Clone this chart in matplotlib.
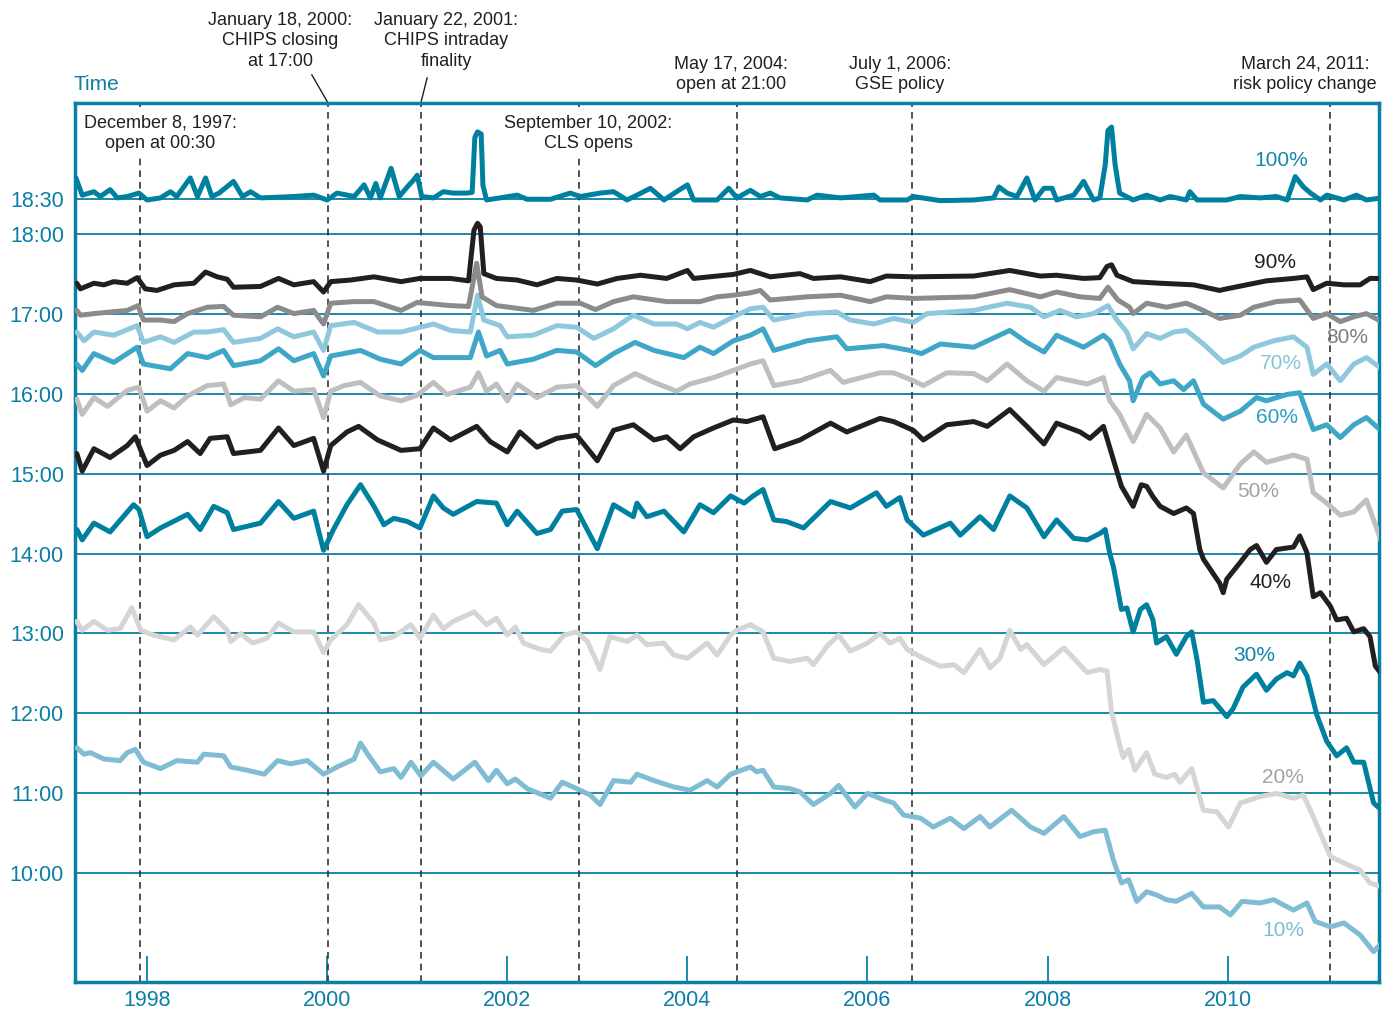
import numpy as np
import matplotlib.pyplot as plt

plt.rcParams['font.family'] = ['Liberation Sans', 'DejaVu Sans']

# percentiles of cumulative payment value, time of day (decimal hours), by date (decimal year)
t100 = [1997.21, 1997.28, 1997.41, 1997.48, 1997.59, 1997.67, 1997.78, 1997.91, 1998.00, 1998.15,
        1998.26, 1998.33, 1998.48, 1998.56, 1998.65, 1998.72, 1998.80, 1998.96, 1999.06, 1999.15,
        1999.26, 1999.45, 1999.63, 1999.85, 2000.00, 2000.11, 2000.30, 2000.41, 2000.48, 2000.54,
        2000.59, 2000.71, 2000.80, 2000.89, 2000.96, 2001.00, 2001.05, 2001.18, 2001.29, 2001.40,
        2001.55, 2001.61, 2001.64, 2001.67, 2001.71, 2001.73, 2001.77, 2001.92, 2002.11, 2002.22,
        2002.48, 2002.70, 2002.81, 2003.03, 2003.18, 2003.33, 2003.44, 2003.59, 2003.74, 2003.88,
        2004.00, 2004.07, 2004.33, 2004.46, 2004.55, 2004.70, 2004.81, 2004.92, 2005.03, 2005.33,
        2005.44, 2005.70, 2006.07, 2006.14, 2006.44, 2006.51, 2006.81, 2007.18, 2007.40, 2007.46,
        2007.55, 2007.66, 2007.77, 2007.86, 2007.96, 2008.05, 2008.10, 2008.29, 2008.40, 2008.51,
        2008.58, 2008.64, 2008.67, 2008.71, 2008.75, 2008.80, 2008.95, 2009.10, 2009.25, 2009.36,
        2009.54, 2009.58, 2009.66, 2009.99, 2010.14, 2010.36, 2010.54, 2010.66, 2010.75, 2010.84,
        2010.92, 2011.03, 2011.10, 2011.29, 2011.43, 2011.54, 2011.71]
v100 = [18.81, 18.56, 18.61, 18.54, 18.64, 18.52, 18.54, 18.59, 18.49, 18.52,
        18.61, 18.54, 18.81, 18.54, 18.81, 18.54, 18.59, 18.76, 18.54, 18.61,
        18.52, 18.53, 18.54, 18.56, 18.49, 18.59, 18.54, 18.71, 18.52, 18.73,
        18.52, 18.95, 18.54, 18.68, 18.78, 18.85, 18.54, 18.52, 18.61, 18.59,
        18.59, 18.60, 19.40, 19.48, 19.45, 18.70, 18.49, 18.52, 18.56, 18.50,
        18.50, 18.59, 18.54, 18.59, 18.61, 18.49, 18.56, 18.66, 18.49, 18.61,
        18.71, 18.49, 18.49, 18.66, 18.52, 18.63, 18.54, 18.59, 18.52, 18.49,
        18.56, 18.52, 18.56, 18.49, 18.49, 18.54, 18.48, 18.49, 18.52, 18.68,
        18.59, 18.54, 18.81, 18.49, 18.66, 18.66, 18.49, 18.56, 18.76, 18.49,
        18.52, 19.00, 19.50, 19.55, 19.00, 18.59, 18.49, 18.56, 18.49, 18.54,
        18.49, 18.61, 18.49, 18.49, 18.54, 18.52, 18.54, 18.49, 18.83, 18.68,
        18.59, 18.49, 18.56, 18.49, 18.56, 18.49, 18.52]

t90 = [1997.22, 1997.26, 1997.41, 1997.52, 1997.63, 1997.78, 1997.89, 1997.98, 1998.11, 1998.30,
       1998.52, 1998.65, 1998.78, 1998.89, 1998.96, 1999.26, 1999.46, 1999.63, 1999.85, 1999.96,
       2000.04, 2000.26, 2000.52, 2000.82, 2001.03, 2001.37, 2001.57, 2001.63, 2001.67, 2001.70,
       2001.74, 2001.88, 2002.11, 2002.33, 2002.55, 2002.77, 2003.00, 2003.22, 2003.48, 2003.77,
       2004.00, 2004.07, 2004.33, 2004.51, 2004.70, 2004.92, 2005.25, 2005.40, 2005.70, 2006.03,
       2006.21, 2006.51, 2007.18, 2007.58, 2007.92, 2008.10, 2008.40, 2008.58, 2008.66, 2008.71,
       2008.77, 2008.95, 2009.25, 2009.62, 2009.91, 2009.99, 2010.21, 2010.43, 2010.73, 2010.88,
       2010.95, 2011.10, 2011.29, 2011.47, 2011.58, 2011.71]
v90 = [17.38, 17.31, 17.38, 17.36, 17.40, 17.38, 17.45, 17.31, 17.29, 17.36,
       17.38, 17.52, 17.46, 17.43, 17.33, 17.34, 17.44, 17.36, 17.40, 17.27,
       17.40, 17.42, 17.46, 17.40, 17.44, 17.44, 17.41, 18.05, 18.15, 18.10,
       17.50, 17.44, 17.42, 17.36, 17.44, 17.42, 17.37, 17.44, 17.48, 17.44,
       17.54, 17.44, 17.47, 17.49, 17.54, 17.46, 17.50, 17.44, 17.46, 17.40,
       17.47, 17.46, 17.47, 17.54, 17.47, 17.48, 17.44, 17.45, 17.59, 17.61,
       17.48, 17.40, 17.38, 17.36, 17.29, 17.31, 17.36, 17.41, 17.44, 17.46,
       17.30, 17.38, 17.36, 17.36, 17.44, 17.44]

t80 = [1997.22, 1997.26, 1997.41, 1997.59, 1997.78, 1997.90, 1997.96, 1998.15, 1998.30, 1998.45,
       1998.67, 1998.85, 1998.96, 1999.26, 1999.45, 1999.63, 1999.85, 1999.96, 2000.04, 2000.30,
       2000.52, 2000.82, 2001.00, 2001.18, 2001.37, 2001.57, 2001.66, 2001.72, 2001.88, 2002.29,
       2002.55, 2002.81, 2002.98, 2003.18, 2003.40, 2003.77, 2004.14, 2004.33, 2004.51, 2004.70,
       2004.81, 2004.92, 2005.33, 2005.70, 2006.03, 2006.21, 2006.51, 2007.18, 2007.58, 2007.92,
       2008.10, 2008.36, 2008.58, 2008.67, 2008.78, 2008.91, 2008.95, 2009.10, 2009.32, 2009.54,
       2009.69, 2009.91, 2010.14, 2010.29, 2010.54, 2010.80, 2010.95, 2011.10, 2011.25, 2011.40,
       2011.54, 2011.71]
v80 = [17.04, 16.98, 17.00, 17.02, 17.04, 17.10, 16.92, 16.92, 16.90, 17.00,
       17.08, 17.09, 16.98, 16.96, 17.08, 17.00, 17.04, 16.87, 17.13, 17.15,
       17.15, 17.04, 17.14, 17.12, 17.10, 17.09, 17.63, 17.21, 17.10, 17.04,
       17.13, 17.13, 17.05, 17.15, 17.21, 17.15, 17.15, 17.21, 17.23, 17.26,
       17.29, 17.17, 17.21, 17.23, 17.15, 17.21, 17.19, 17.21, 17.30, 17.21,
       17.27, 17.21, 17.19, 17.33, 17.17, 17.08, 17.00, 17.13, 17.08, 17.13,
       17.06, 16.94, 16.98, 17.08, 17.15, 17.17, 16.94, 17.00, 16.90, 16.96,
       17.00, 16.90]

t70 = [1997.22, 1997.30, 1997.41, 1997.63, 1997.89, 1997.96, 1998.15, 1998.30, 1998.52, 1998.67,
       1998.85, 1998.96, 1999.26, 1999.45, 1999.63, 1999.85, 1999.96, 2000.04, 2000.30, 2000.56,
       2000.82, 2001.00, 2001.18, 2001.37, 2001.59, 2001.67, 2001.74, 2001.92, 2002.00, 2002.29,
       2002.55, 2002.77, 2002.96, 2003.18, 2003.40, 2003.63, 2003.88, 2004.00, 2004.14, 2004.29,
       2004.51, 2004.70, 2004.84, 2004.96, 2005.33, 2005.66, 2005.81, 2006.07, 2006.29, 2006.51,
       2006.66, 2007.18, 2007.55, 2007.81, 2007.96, 2008.14, 2008.32, 2008.51, 2008.67, 2008.77,
       2008.88, 2008.95, 2009.10, 2009.25, 2009.40, 2009.54, 2009.73, 2009.95, 2010.14, 2010.29,
       2010.51, 2010.73, 2010.88, 2010.95, 2011.10, 2011.25, 2011.40, 2011.54, 2011.71]
v70 = [16.77, 16.66, 16.77, 16.73, 16.85, 16.64, 16.71, 16.64, 16.77, 16.77,
       16.80, 16.64, 16.69, 16.81, 16.71, 16.77, 16.54, 16.85, 16.89, 16.77,
       16.77, 16.82, 16.87, 16.79, 16.77, 17.23, 16.92, 16.85, 16.71, 16.73,
       16.85, 16.83, 16.69, 16.81, 16.98, 16.87, 16.87, 16.81, 16.89, 16.83,
       16.96, 17.06, 17.08, 16.92, 17.00, 17.02, 16.92, 16.87, 16.94, 16.89,
       17.00, 17.04, 17.13, 17.08, 16.96, 17.04, 16.96, 17.00, 17.10, 16.92,
       16.77, 16.56, 16.75, 16.69, 16.77, 16.79, 16.62, 16.39, 16.47, 16.58,
       16.66, 16.71, 16.58, 16.24, 16.37, 16.16, 16.37, 16.45, 16.31]

t60 = [1997.22, 1997.28, 1997.41, 1997.63, 1997.89, 1997.96, 1998.26, 1998.45, 1998.67, 1998.85,
       1998.96, 1999.26, 1999.46, 1999.63, 1999.85, 1999.96, 2000.04, 2000.37, 2000.59, 2000.82,
       2001.03, 2001.18, 2001.59, 2001.68, 2001.77, 2001.92, 2002.00, 2002.29, 2002.55, 2002.77,
       2002.98, 2003.18, 2003.42, 2003.63, 2003.96, 2004.14, 2004.29, 2004.51, 2004.70, 2004.84,
       2004.96, 2005.33, 2005.66, 2005.77, 2006.18, 2006.47, 2006.60, 2006.81, 2007.18, 2007.58,
       2007.77, 2007.96, 2008.10, 2008.40, 2008.62, 2008.69, 2008.80, 2008.91, 2008.95, 2009.06,
       2009.14, 2009.25, 2009.40, 2009.51, 2009.62, 2009.73, 2009.95, 2010.14, 2010.32, 2010.43,
       2010.66, 2010.80, 2010.95, 2011.10, 2011.25, 2011.40, 2011.54, 2011.71]
v60 = [16.37, 16.29, 16.50, 16.39, 16.58, 16.37, 16.31, 16.50, 16.45, 16.54,
       16.35, 16.41, 16.56, 16.41, 16.50, 16.22, 16.47, 16.54, 16.43, 16.37,
       16.54, 16.45, 16.45, 16.77, 16.47, 16.54, 16.37, 16.43, 16.54, 16.52,
       16.35, 16.50, 16.64, 16.54, 16.45, 16.58, 16.50, 16.66, 16.73, 16.81,
       16.54, 16.66, 16.71, 16.56, 16.60, 16.54, 16.50, 16.62, 16.58, 16.79,
       16.64, 16.52, 16.73, 16.58, 16.73, 16.66, 16.37, 16.16, 15.91, 16.20,
       16.26, 16.12, 16.16, 16.05, 16.16, 15.87, 15.68, 15.78, 15.95, 15.91,
       15.99, 16.01, 15.55, 15.61, 15.45, 15.61, 15.70, 15.53]

t50 = [1997.22, 1997.28, 1997.41, 1997.56, 1997.78, 1997.91, 1998.00, 1998.15, 1998.30, 1998.45,
       1998.67, 1998.85, 1998.93, 1999.08, 1999.26, 1999.46, 1999.63, 1999.85, 1999.96, 2000.04,
       2000.19, 2000.37, 2000.59, 2000.82, 2001.00, 2001.18, 2001.33, 2001.59, 2001.68, 2001.77,
       2001.88, 2002.00, 2002.11, 2002.33, 2002.55, 2002.77, 2003.00, 2003.18, 2003.42, 2003.63,
       2003.88, 2004.03, 2004.29, 2004.51, 2004.70, 2004.84, 2004.96, 2005.25, 2005.59, 2005.73,
       2006.14, 2006.29, 2006.51, 2006.62, 2006.88, 2007.18, 2007.33, 2007.55, 2007.77, 2007.96,
       2008.10, 2008.44, 2008.62, 2008.69, 2008.80, 2008.95, 2009.10, 2009.25, 2009.40, 2009.54,
       2009.73, 2009.95, 2010.14, 2010.29, 2010.43, 2010.73, 2010.88, 2010.95, 2011.10, 2011.25,
       2011.40, 2011.54, 2011.71]
v50 = [15.93, 15.74, 15.95, 15.84, 16.04, 16.08, 15.78, 15.91, 15.82, 15.97,
       16.10, 16.12, 15.86, 15.95, 15.93, 16.16, 16.03, 16.05, 15.70, 16.03,
       16.10, 16.14, 15.97, 15.91, 15.98, 16.14, 15.99, 16.08, 16.26, 16.03,
       16.12, 15.91, 16.12, 15.95, 16.08, 16.10, 15.84, 16.10, 16.25, 16.14,
       16.03, 16.12, 16.20, 16.29, 16.37, 16.41, 16.10, 16.16, 16.29, 16.14,
       16.26, 16.26, 16.16, 16.10, 16.26, 16.25, 16.16, 16.37, 16.16, 16.03,
       16.20, 16.12, 16.20, 15.91, 15.74, 15.40, 15.74, 15.57, 15.27, 15.48,
       15.01, 14.82, 15.12, 15.27, 15.14, 15.23, 15.18, 14.76, 14.63, 14.48,
       14.52, 14.67, 14.14]

t40 = [1997.22, 1997.28, 1997.41, 1997.59, 1997.78, 1997.87, 1998.00, 1998.15, 1998.30, 1998.45,
       1998.59, 1998.70, 1998.89, 1998.96, 1999.26, 1999.46, 1999.63, 1999.85, 1999.96, 2000.04,
       2000.22, 2000.35, 2000.56, 2000.82, 2001.03, 2001.18, 2001.37, 2001.66, 2001.81, 2002.00,
       2002.14, 2002.33, 2002.55, 2002.77, 2003.00, 2003.18, 2003.40, 2003.63, 2003.77, 2003.92,
       2004.07, 2004.29, 2004.51, 2004.66, 2004.84, 2004.97, 2005.25, 2005.59, 2005.77, 2006.14,
       2006.29, 2006.51, 2006.62, 2006.88, 2007.18, 2007.33, 2007.58, 2007.77, 2007.96, 2008.10,
       2008.36, 2008.47, 2008.62, 2008.75, 2008.82, 2008.95, 2009.04, 2009.10, 2009.17, 2009.25,
       2009.40, 2009.54, 2009.62, 2009.69, 2009.73, 2009.91, 2009.95, 2009.99, 2010.14, 2010.25,
       2010.32, 2010.43, 2010.54, 2010.73, 2010.80, 2010.88, 2010.95, 2011.03, 2011.14, 2011.21,
       2011.32, 2011.40, 2011.51, 2011.58, 2011.64, 2011.71]
v40 = [15.25, 15.03, 15.31, 15.20, 15.35, 15.46, 15.10, 15.23, 15.29, 15.40,
       15.25, 15.44, 15.46, 15.25, 15.29, 15.57, 15.35, 15.44, 15.03, 15.35,
       15.52, 15.59, 15.42, 15.29, 15.31, 15.57, 15.42, 15.59, 15.40, 15.27,
       15.52, 15.33, 15.44, 15.48, 15.16, 15.54, 15.61, 15.42, 15.46, 15.31,
       15.46, 15.57, 15.67, 15.65, 15.71, 15.31, 15.42, 15.63, 15.52, 15.69,
       15.65, 15.54, 15.42, 15.61, 15.65, 15.59, 15.80, 15.59, 15.37, 15.63,
       15.52, 15.44, 15.59, 15.10, 14.84, 14.59, 14.86, 14.84, 14.71, 14.59,
       14.50, 14.57, 14.50, 14.05, 13.93, 13.63, 13.51, 13.68, 13.89, 14.05,
       14.10, 13.89, 14.05, 14.08, 14.22, 14.01, 13.46, 13.51, 13.34, 13.17,
       13.19, 13.02, 13.06, 12.96, 12.59, 12.49]

t30 = [1997.22, 1997.28, 1997.41, 1997.59, 1997.85, 1997.91, 1998.00, 1998.15, 1998.45, 1998.59,
       1998.74, 1998.89, 1998.96, 1999.26, 1999.46, 1999.63, 1999.85, 1999.96, 2000.07, 2000.22,
       2000.37, 2000.52, 2000.63, 2000.74, 2000.89, 2001.03, 2001.18, 2001.29, 2001.40, 2001.66,
       2001.88, 2002.00, 2002.11, 2002.33, 2002.48, 2002.61, 2002.77, 2003.00, 2003.18, 2003.40,
       2003.44, 2003.55, 2003.74, 2003.96, 2004.14, 2004.29, 2004.48, 2004.63, 2004.73, 2004.84,
       2004.96, 2005.10, 2005.29, 2005.59, 2005.81, 2006.10, 2006.21, 2006.36, 2006.44, 2006.62,
       2006.92, 2007.03, 2007.25, 2007.40, 2007.58, 2007.77, 2007.96, 2008.10, 2008.29, 2008.44,
       2008.58, 2008.64, 2008.69, 2008.73, 2008.82, 2008.88, 2008.95, 2009.03, 2009.10, 2009.17,
       2009.21, 2009.32, 2009.43, 2009.54, 2009.60, 2009.66, 2009.73, 2009.84, 2009.99, 2010.06,
       2010.17, 2010.32, 2010.43, 2010.54, 2010.66, 2010.73, 2010.80, 2010.88, 2010.99, 2011.10,
       2011.21, 2011.32, 2011.40, 2011.51, 2011.62, 2011.71]
v30 = [14.30, 14.17, 14.38, 14.27, 14.61, 14.55, 14.21, 14.32, 14.49, 14.30,
       14.59, 14.51, 14.30, 14.38, 14.65, 14.44, 14.53, 14.04, 14.30, 14.61,
       14.86, 14.59, 14.36, 14.44, 14.40, 14.32, 14.72, 14.57, 14.49, 14.65,
       14.63, 14.36, 14.53, 14.25, 14.30, 14.53, 14.55, 14.06, 14.61, 14.46,
       14.63, 14.46, 14.53, 14.27, 14.61, 14.51, 14.72, 14.63, 14.72, 14.80,
       14.42, 14.40, 14.32, 14.65, 14.57, 14.76, 14.59, 14.70, 14.42, 14.23,
       14.38, 14.23, 14.46, 14.30, 14.72, 14.57, 14.21, 14.42, 14.19, 14.17,
       14.25, 14.30, 14.00, 13.84, 13.30, 13.32, 13.02, 13.30, 13.36, 13.17,
       12.88, 12.96, 12.74, 12.96, 13.02, 12.67, 12.14, 12.16, 11.96, 12.06,
       12.33, 12.49, 12.29, 12.43, 12.51, 12.47, 12.63, 12.47, 11.98, 11.65,
       11.47, 11.57, 11.39, 11.39, 10.88, 10.79]

t20 = [1997.22, 1997.28, 1997.41, 1997.56, 1997.70, 1997.83, 1997.93, 1998.07, 1998.30, 1998.48,
       1998.56, 1998.74, 1998.89, 1998.93, 1999.04, 1999.17, 1999.33, 1999.46, 1999.63, 1999.85,
       1999.96, 2000.04, 2000.22, 2000.35, 2000.52, 2000.59, 2000.74, 2000.93, 2001.03, 2001.18,
       2001.29, 2001.40, 2001.63, 2001.77, 2001.88, 2002.00, 2002.09, 2002.18, 2002.37, 2002.48,
       2002.63, 2002.77, 2002.89, 2003.03, 2003.14, 2003.33, 2003.44, 2003.55, 2003.74, 2003.85,
       2004.00, 2004.22, 2004.33, 2004.48, 2004.55, 2004.70, 2004.84, 2004.96, 2005.14, 2005.33,
       2005.40, 2005.55, 2005.68, 2005.81, 2006.00, 2006.14, 2006.25, 2006.36, 2006.44, 2006.62,
       2006.81, 2006.96, 2007.07, 2007.25, 2007.36, 2007.47, 2007.58, 2007.70, 2007.77, 2007.96,
       2008.18, 2008.29, 2008.44, 2008.58, 2008.66, 2008.71, 2008.79, 2008.84, 2008.90, 2008.97,
       2009.10, 2009.19, 2009.32, 2009.41, 2009.47, 2009.60, 2009.73, 2009.88, 2010.01, 2010.14,
       2010.36, 2010.54, 2010.73, 2010.84, 2010.95, 2011.06, 2011.14, 2011.29, 2011.47, 2011.58,
       2011.71]
v20 = [13.15, 13.04, 13.15, 13.04, 13.06, 13.32, 13.04, 12.98, 12.92, 13.08,
       12.98, 13.21, 13.04, 12.90, 13.00, 12.88, 12.94, 13.13, 13.02, 13.02,
       12.76, 12.92, 13.11, 13.36, 13.13, 12.92, 12.96, 13.11, 12.94, 13.23,
       13.06, 13.15, 13.27, 13.11, 13.19, 12.98, 13.08, 12.88, 12.80, 12.78,
       12.98, 13.02, 12.90, 12.55, 12.96, 12.90, 12.98, 12.86, 12.88, 12.73,
       12.69, 12.88, 12.73, 12.98, 13.04, 13.11, 13.02, 12.69, 12.65, 12.69,
       12.61, 12.84, 12.98, 12.78, 12.88, 13.00, 12.88, 12.94, 12.80, 12.69,
       12.59, 12.61, 12.51, 12.80, 12.57, 12.69, 13.04, 12.80, 12.86, 12.61,
       12.82, 12.69, 12.51, 12.55, 12.53, 12.02, 11.65, 11.45, 11.55, 11.29,
       11.51, 11.24, 11.20, 11.24, 11.14, 11.31, 10.79, 10.77, 10.58, 10.88,
       10.96, 11.00, 10.94, 10.98, 10.71, 10.42, 10.21, 10.13, 10.04, 9.88,
       9.83]

t10 = [1997.22, 1997.30, 1997.37, 1997.52, 1997.70, 1997.78, 1997.87, 1997.96, 1998.15, 1998.33,
       1998.56, 1998.63, 1998.85, 1998.93, 1999.11, 1999.30, 1999.45, 1999.59, 1999.78, 1999.96,
       2000.11, 2000.30, 2000.37, 2000.45, 2000.59, 2000.74, 2000.82, 2000.93, 2001.04, 2001.18,
       2001.40, 2001.64, 2001.79, 2001.88, 2002.00, 2002.09, 2002.22, 2002.48, 2002.61, 2002.77,
       2002.92, 2003.03, 2003.18, 2003.37, 2003.44, 2003.63, 2003.85, 2004.03, 2004.22, 2004.33,
       2004.48, 2004.70, 2004.77, 2004.84, 2004.96, 2005.14, 2005.25, 2005.40, 2005.59, 2005.68,
       2005.86, 2006.00, 2006.18, 2006.29, 2006.40, 2006.59, 2006.73, 2006.92, 2007.07, 2007.25,
       2007.36, 2007.60, 2007.81, 2007.96, 2008.18, 2008.36, 2008.51, 2008.64, 2008.73, 2008.82,
       2008.90, 2008.99, 2009.10, 2009.21, 2009.32, 2009.43, 2009.60, 2009.73, 2009.91, 2010.03,
       2010.16, 2010.36, 2010.51, 2010.73, 2010.88, 2010.97, 2011.14, 2011.29, 2011.47, 2011.62,
       2011.71]
v10 = [11.57, 11.49, 11.51, 11.43, 11.41, 11.51, 11.55, 11.39, 11.31, 11.41,
       11.39, 11.49, 11.47, 11.33, 11.29, 11.24, 11.41, 11.37, 11.41, 11.24,
       11.33, 11.43, 11.63, 11.49, 11.27, 11.31, 11.20, 11.39, 11.22, 11.39,
       11.18, 11.39, 11.16, 11.29, 11.12, 11.18, 11.06, 10.94, 11.14, 11.06,
       10.98, 10.86, 11.16, 11.14, 11.24, 11.16, 11.08, 11.04, 11.16, 11.08,
       11.24, 11.33, 11.27, 11.29, 11.08, 11.06, 11.02, 10.86, 11.00, 11.10,
       10.83, 11.00, 10.92, 10.88, 10.73, 10.69, 10.58, 10.69, 10.56, 10.71,
       10.58, 10.79, 10.58, 10.50, 10.71, 10.46, 10.52, 10.54, 10.17, 9.88,
       9.92, 9.65, 9.77, 9.73, 9.67, 9.65, 9.75, 9.58, 9.58, 9.48,
       9.65, 9.63, 9.67, 9.54, 9.63, 9.40, 9.33, 9.38, 9.23, 9.02,
       9.13]

event_years = [1997.92, 2000.01, 2001.04, 2002.80, 2004.55, 2006.49, 2011.14]
year_ticks = [1998, 2000, 2002, 2004, 2006, 2008, 2010]
hour_ticks = [10, 11, 12, 13, 14, 15, 16, 17, 18, 18.5]
hour_labels = ['10:00', '11:00', '12:00', '13:00', '14:00', '15:00', '16:00', '17:00', '18:00', '18:30']

teal = '#0b7fa5'
series = [
    (t100, v100, '#00809f', '100%', '#1587ab', 2010.60, 19.06),
    (t90, v90, '#231f20', '90%', '#231f20', 2010.53, 17.64),
    (t80, v80, '#8b8b8e', '80%', '#7d7d80', 2011.33, 16.70),
    (t70, v70, '#8fc8dd', '70%', '#86c4da', 2010.59, 16.37),
    (t60, v60, '#3ea6c6', '60%', '#2a9dc2', 2010.55, 15.70),
    (t50, v50, '#bfbfc1', '50%', '#a3a3a5', 2010.34, 14.77),
    (t40, v40, '#231f20', '40%', '#231f20', 2010.47, 13.64),
    (t30, v30, '#00809f', '30%', '#0d84a8', 2010.30, 12.73),
    (t20, v20, '#d5d5d6', '20%', '#a3a3a5', 2010.61, 11.20),
    (t10, v10, '#80bdd4', '10%', '#7cbdd3', 2010.62, 9.28),
]


# the band above 18:00 is drawn a little tighter than the rest of the scale
def fwd(h):
    h = np.asarray(h, dtype=float)
    return np.where(h > 18, 18 + (h - 18) * 0.86, h)


def inv(t):
    t = np.asarray(t, dtype=float)
    return np.where(t > 18, 18 + (t - 18) / 0.86, t)


fig = plt.figure(figsize=(13.82, 10.09), dpi=100)
ax = fig.add_axes([75 / 1382, 1 - 981.7 / 1009, (1379 - 75) / 1382, (981.7 - 103) / 1009])
ax.set_yscale('function', functions=(fwd, inv))

for t, v, col, lab, lcol, lx, ly in series[::-1]:
    ax.plot(t, v, color=col, lw=3.6, solid_joinstyle='round', solid_capstyle='round', zorder=3)
    ax.text(lx, ly, lab, color=lcol, fontsize=15, ha='center', va='center', zorder=5)

for x in event_years:
    ax.axvline(x, color='#333333', lw=1.2, ls=(0, (4, 3)), zorder=2)

ax.set_xlim(1997.20, 2011.68)
ax.set_ylim(8.645, 19.90)
ax.set_yticks(hour_ticks)
ax.set_yticklabels(hour_labels)
ax.set_xticks(year_ticks)
ax.set_xticklabels([str(y) for y in year_ticks])
ax.grid(axis='y', color=teal, lw=1.3, zorder=1)
ax.set_axisbelow(True)
ax.tick_params(axis='y', length=0, labelcolor=teal, labelsize=15.5, pad=8)
ax.tick_params(axis='x', direction='in', length=19, width=1.3, color=teal,
               labelcolor=teal, labelsize=15.5, pad=6)
for s in ax.spines.values():
    s.set_color(teal)
    s.set_linewidth(2.5)

tr = ax.get_xaxis_transform()
txt = dict(fontsize=13, color='#231f20', ha='center', va='center', linespacing=1.25)
ax.text(1999.48, 1.0706, 'January 18, 2000:\nCHIPS closing\nat 17:00', transform=tr, **txt)
ax.text(2001.32, 1.0706, 'January 22, 2001:\nCHIPS intraday\nfinality', transform=tr, **txt)
ax.text(2004.48, 1.0324, 'May 17, 2004:\nopen at 21:00', transform=tr, **txt)
ax.text(2006.36, 1.0324, 'July 1, 2006:\nGSE policy', transform=tr, **txt)
ax.text(2010.86, 1.0324, 'March 24, 2011:\nrisk policy change', transform=tr, **txt)
box = dict(facecolor='white', edgecolor='none', pad=2)
ax.text(1998.15, 0.9653, 'December 8, 1997:\nopen at 00:30', transform=tr, bbox=box, zorder=4, **txt)
ax.text(2002.90, 0.9653, 'September 10, 2002:\nCLS opens', transform=tr, bbox=box, zorder=4, **txt)
ax.plot([1999.83, 2000.01], [1.032, 1.0], transform=tr, color='#231f20', lw=1, clip_on=False)
ax.plot([2001.11, 2001.04], [1.0285, 1.0], transform=tr, color='#231f20', lw=1, clip_on=False)
ax.text(-0.0015, 1.0216, 'Time', transform=ax.transAxes, color=teal, fontsize=15,
        ha='left', va='center')

fig.savefig('out.png', dpi=100)
